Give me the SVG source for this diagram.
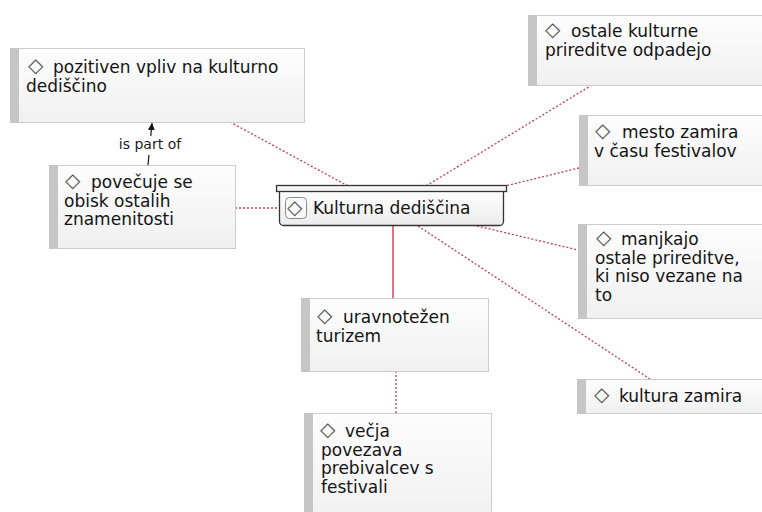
<svg xmlns="http://www.w3.org/2000/svg" width="762" height="512" viewBox="0 0 762 512">
<defs>
<linearGradient id="g" x1="0" y1="0" x2="0" y2="1">
<stop offset="0" stop-color="#fdfdfd"/>
<stop offset="1" stop-color="#f0f0f0"/>
</linearGradient>
<linearGradient id="gc" x1="0" y1="0" x2="0" y2="1">
<stop offset="0" stop-color="#ffffff"/>
<stop offset="1" stop-color="#ececec"/>
</linearGradient>
<marker id="ah" viewBox="0 0 10 10" refX="10" refY="5" markerWidth="7" markerHeight="12" markerUnits="userSpaceOnUse" orient="auto">
<path d="M0,0 L10,5 L0,10 z" fill="#111"/>
</marker>
</defs>
<style>
.box{fill:url(#g);stroke:#cccccc;stroke-width:1}
.bar{fill:#c6c6c6}
.t{font-family:"DejaVu Sans","Liberation Sans",sans-serif;font-size:17px;fill:#141414}
.d{font-family:"DejaVu Sans",sans-serif;font-size:20px;fill:#505050}
.dot{stroke:#c0404e;stroke-width:1.3;stroke-dasharray:2 2;fill:none}
.sol{stroke:#c0303c;stroke-width:1.3;fill:none}
.lbl{font-family:"DejaVu Sans","Liberation Sans",sans-serif;font-size:14px;fill:#1c1c1c}
</style>
<rect width="762" height="512" fill="#ffffff"/>
<g id="connectors">
<line class="dot" x1="230" y1="122" x2="348" y2="186"/>
<line class="dot" x1="235" y1="208" x2="279" y2="208"/>
<line class="dot" x1="592" y1="85" x2="426" y2="186"/>
<line class="dot" x1="579" y1="168" x2="505" y2="186"/>
<line class="dot" x1="473" y1="225" x2="578" y2="250"/>
<line class="dot" x1="418" y1="226" x2="650" y2="379"/>
<line class="sol" x1="393" y1="226" x2="393" y2="298"/>
<line class="dot" x1="396" y1="371" x2="396" y2="413"/>
<line stroke="#111" stroke-width="1.2" x1="148" y1="165" x2="152" y2="123" marker-end="url(#ah)"/>
<rect x="117" y="136" width="67" height="19" fill="#ffffff"/>
<text class="lbl" x="150" y="149" text-anchor="middle">is part of</text>
</g>
<g id="n1">
<rect class="box" x="10.5" y="48.5" width="294" height="74"/>
<rect class="bar" x="10" y="48" width="9" height="75"/>
<text class="d" x="28" y="71.5">◇</text>
<text class="t"><tspan x="53" y="73">pozitiven vpliv na kulturno</tspan><tspan x="26" y="91.5">dediščino</tspan></text>
</g>
<g id="n2">
<rect class="box" x="49.5" y="165.5" width="186" height="83"/>
<rect class="bar" x="49" y="165" width="9" height="84"/>
<text class="d" x="65" y="186.5">◇</text>
<text class="t"><tspan x="91" y="188">povečuje se</tspan><tspan x="64" y="206.5">obisk ostalih</tspan><tspan x="64" y="225">znamenitosti</tspan></text>
</g>
<g id="center">
<rect x="279.5" y="186.5" width="224" height="39" rx="4" fill="url(#gc)" stroke="#333" stroke-width="1.3"/>
<rect x="276.5" y="185.5" width="230" height="6" fill="#f4f4f4" stroke="#333" stroke-width="1.3"/>
<rect x="285.5" y="197.5" width="21" height="21" rx="4" fill="#fafafa" stroke="#888" stroke-width="1"/>
<text class="d" x="287" y="213.5">◇</text>
<text class="t" x="313" y="213.5">Kulturna dediščina</text>
</g>
<g id="n3">
<rect class="box" x="528.5" y="15.5" width="240" height="70"/>
<rect class="bar" x="528" y="15" width="9" height="71"/>
<text class="d" x="545" y="35.5">◇</text>
<text class="t"><tspan x="571" y="37">ostale kulturne</tspan><tspan x="545" y="55.5">prireditve odpadejo</tspan></text>
</g>
<g id="n4">
<rect class="box" x="579.5" y="115.5" width="190" height="70"/>
<rect class="bar" x="579" y="115" width="9" height="71"/>
<text class="d" x="595" y="136.5">◇</text>
<text class="t"><tspan x="622" y="138">mesto zamira</tspan><tspan x="594" y="156.5">v času festivalov</tspan></text>
</g>
<g id="n5">
<rect class="box" x="578.5" y="224.5" width="190" height="94"/>
<rect class="bar" x="578" y="224" width="9" height="95"/>
<text class="d" x="596" y="243.5">◇</text>
<text class="t"><tspan x="621" y="245">manjkajo</tspan><tspan x="595" y="263.5">ostale prireditve,</tspan><tspan x="595" y="282">ki niso vezane na</tspan><tspan x="595" y="300.5">to</tspan></text>
</g>
<g id="n6">
<rect class="box" x="577.5" y="379.5" width="190" height="34"/>
<rect class="bar" x="577" y="379" width="9" height="35"/>
<text class="d" x="594" y="400.5">◇</text>
<text class="t" x="619" y="402">kultura zamira</text>
</g>
<g id="n7">
<rect class="box" x="301.5" y="298.5" width="187" height="73"/>
<rect class="bar" x="301" y="298" width="9" height="74"/>
<text class="d" x="317" y="321.5">◇</text>
<text class="t"><tspan x="343" y="323">uravnotežen</tspan><tspan x="316" y="341.5">turizem</tspan></text>
</g>
<g id="n8">
<rect class="box" x="304.5" y="413.5" width="187" height="110"/>
<rect class="bar" x="304" y="413" width="9" height="110"/>
<text class="d" x="320" y="435.5">◇</text>
<text class="t"><tspan x="345" y="437">večja</tspan><tspan x="321" y="455.5">povezava</tspan><tspan x="321" y="474">prebivalcev s</tspan><tspan x="321" y="492.5">festivali</tspan></text>
</g>
</svg>
